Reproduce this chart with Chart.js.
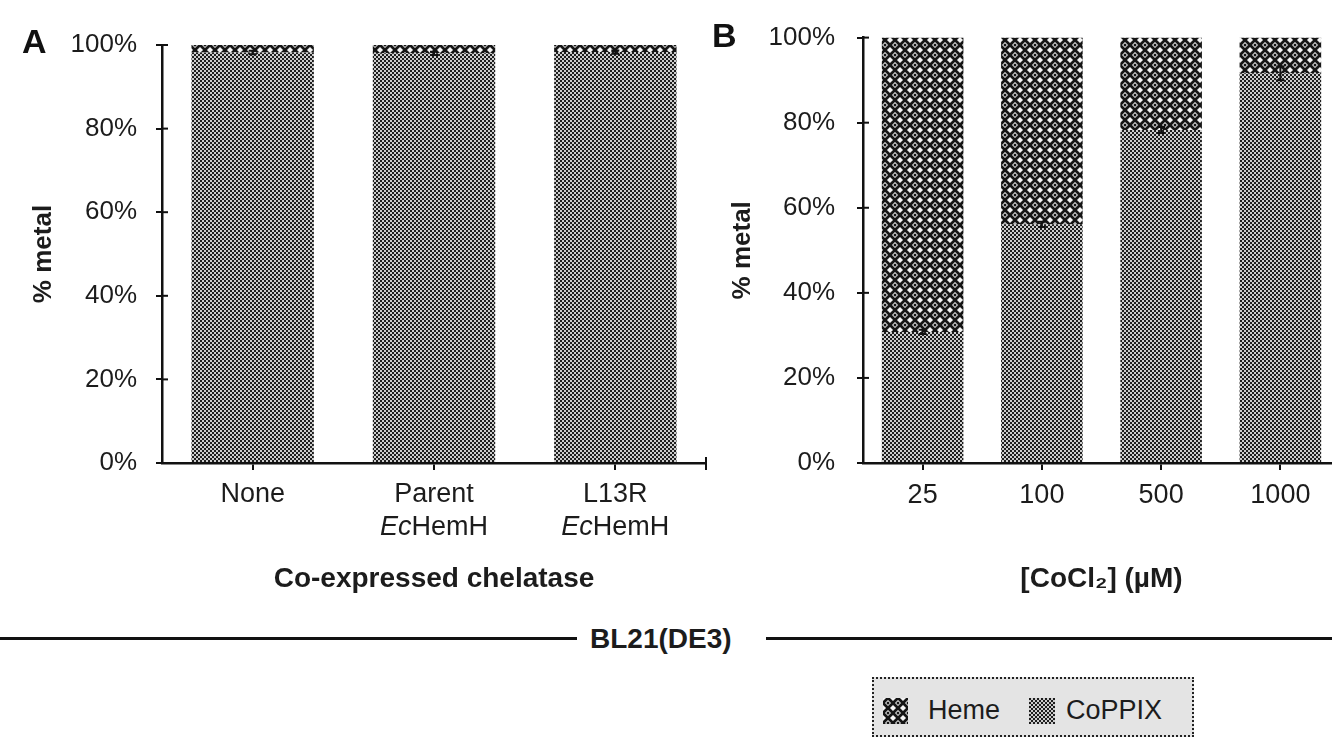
<!DOCTYPE html>
<html>
<head>
<meta charset="utf-8">
<script src="https://cdn.jsdelivr.net/npm/chart.js@4.4.1/dist/chart.umd.min.js"></script>
<style>
  body { margin: 0; width: 1332px; height: 738px; overflow: hidden; background: #fff; position: relative;
         font-family: "Liberation Sans", Arial, sans-serif; color: #1c1c1c; }
  .box { position: absolute; top: 0; height: 610px; }
  #boxA { left: 0; width: 720px; }
  #boxB { left: 700px; width: 650px; }
  .panel { position: absolute; font-weight: bold; font-size: 34px; line-height: 34px; color: #111; }
  .rule { position: absolute; top: 637px; height: 3px; background: #111; }
  #strain { position: absolute; left: 590px; top: 621px; font-size: 28px; font-weight: bold; line-height: 36px; }
  #legend { position: absolute; left: 872px; top: 677px; width: 318px; height: 56px; border: 2px dotted #222;
            background: #e4e4e4; font-size: 27px; }
  #legend canvas { position: absolute; top: 19px; }
  #legend span { position: absolute; top: 16px; line-height: 30px; }
</style>
</head>
<body>
<div class="box" id="boxA"><canvas id="chartA"></canvas></div>
<div class="box" id="boxB"><canvas id="chartB"></canvas></div>
<div class="panel" style="left:22px; top:24px;">A</div>
<div class="panel" style="left:712px; top:18px;">B</div>
<div class="rule" style="left:0; width:577px;"></div>
<div id="strain">BL21(DE3)</div>
<div class="rule" style="left:766px; width:566px;"></div>
<div id="legend">
  <canvas id="swHeme" width="25" height="26" style="left:9px"></canvas><span style="left:54px">Heme</span>
  <canvas id="swCo" width="26" height="26" style="left:155px"></canvas><span style="left:192px">CoPPIX</span>
</div>
<script>
// panel A
const catsA = ['None', ['Parent', 'EcHemH'], ['L13R', 'EcHemH']];
const coppixA = [98.2, 98.0, 98.3];
const hemeA = [1.8, 2.0, 1.7];
const errA = [0.4, 0.4, 0.4];

// panel B
const catsB = ['25', '100', '500', '1000'];
const coppixB = [30.8, 56.1, 78.3, 91.6];
const hemeB = [69.2, 43.9, 21.7, 8.4];
const errB = [0.5, 0.6, 0.7, 1.6];

const yTicks = [0, 20, 40, 60, 80, 100];

const ink = '#1c1c1c';
const font = '"Liberation Sans", Arial, sans-serif';

function checker() {
    const c = document.createElement('canvas');
    c.width = 4; c.height = 4;
    const g = c.getContext('2d');
    g.fillStyle = '#cdcdcd';
    g.fillRect(0, 0, 4, 4);
    g.fillStyle = '#1e1e1e';
    g.fillRect(0, 0, 2, 2);
    g.fillRect(2, 2, 2, 2);
    return c;
}

function diamonds() {
    const c = document.createElement('canvas');
    c.width = 10; c.height = 10;
    const g = c.getContext('2d');
    g.fillStyle = '#f4f4f4';
    g.fillRect(0, 0, 10, 10);
    g.strokeStyle = '#151515';
    g.lineWidth = 2.8;
    g.beginPath();
    g.moveTo(-1, 6); g.lineTo(6, -1);
    g.moveTo(4, 11); g.lineTo(11, 4);
    g.moveTo(4, -1); g.lineTo(11, 6);
    g.moveTo(-1, 4); g.lineTo(6, 11);
    g.stroke();
    g.fillStyle = '#151515';
    g.beginPath();
    g.arc(5, 5, 1.5, 0, Math.PI * 2);
    g.fill();
    return c;
}

const ctxA = document.getElementById('chartA').getContext('2d');
const coppixFill = ctxA.createPattern(checker(), 'repeat');
const hemeFill = ctxA.createPattern(diamonds(), 'repeat');

// legend swatches
[['swHeme', diamonds()], ['swCo', checker()]].forEach(function(s) {
    const g = document.getElementById(s[0]).getContext('2d');
    g.fillStyle = g.createPattern(s[1], 'repeat');
    g.fillRect(0, 0, 26, 26);
});

// error bars on top of the CoPPIX segment, plus the inner half of the axis ticks
const extras = {
    id: 'extras',
    afterDatasetsDraw(chart, args, opts) {
        const g = chart.ctx;
        const y = chart.scales.y;
        const ds = chart.data.datasets[0];
        const meta = chart.getDatasetMeta(0);
        g.save();
        g.strokeStyle = '#111';
        g.lineWidth = 2;
        meta.data.forEach(function(bar, i) {
            const v = ds.data[i], e = opts.errors[i];
            const t = y.getPixelForValue(v + e), b = y.getPixelForValue(v - e);
            g.beginPath();
            g.moveTo(bar.x, t); g.lineTo(bar.x, b);
            g.moveTo(bar.x - 4, t); g.lineTo(bar.x + 4, t);
            g.moveTo(bar.x - 4, b); g.lineTo(bar.x + 4, b);
            g.stroke();
        });
        g.restore();
    },
    afterDraw(chart, args, opts) {
        const g = chart.ctx;
        const a = chart.chartArea;
        const y = chart.scales.y;
        g.save();
        g.strokeStyle = '#111';
        g.lineWidth = 2;
        y.ticks.forEach(function(t) {
            const py = y.getPixelForValue(t.value);
            g.beginPath(); g.moveTo(a.left, py); g.lineTo(a.left + 6, py); g.stroke();
        });
        if (opts.endTick) {
            g.beginPath(); g.moveTo(a.right, a.bottom - 6); g.lineTo(a.right, a.bottom + 7); g.stroke();
        }
        if (opts.customLabels) {
            const x = chart.scales.x;
            g.fillStyle = ink;
            g.textBaseline = 'middle';
            g.textAlign = 'left';
            chart.data.labels.forEach(function(lbl, i) {
                const px = x.getPixelForTick(i);
                const lines = Array.isArray(lbl) ? lbl : [lbl];
                lines.forEach(function(line, j) {
                    const py = x.top + 32 + j * 32.4;
                    if (line.indexOf('Ec') === 0) {
                        g.font = 'italic 27px ' + font;
                        const w1 = g.measureText('Ec').width;
                        g.font = '27px ' + font;
                        const w2 = g.measureText(line.slice(2)).width;
                        const sx = px - (w1 + w2) / 2;
                        g.font = 'italic 27px ' + font;
                        g.fillText('Ec', sx, py);
                        g.font = '27px ' + font;
                        g.fillText(line.slice(2), sx + w1, py);
                    } else {
                        g.font = '27px ' + font;
                        g.textAlign = 'center';
                        g.fillText(line, px, py);
                        g.textAlign = 'left';
                    }
                });
            });
        }
        g.restore();
    }
};

function options(cfg) {
    return {
        responsive: true,
        maintainAspectRatio: false,
        animation: false,
        layout: { padding: { top: cfg.top, right: cfg.right, bottom: 0, left: 0 } },
        plugins: {
            legend: { display: false },
            tooltip: { enabled: false },
            extras: { errors: cfg.errors, endTick: cfg.endTick, customLabels: cfg.customLabels }
        },
        scales: {
            x: {
                stacked: true,
                grid: { drawOnChartArea: false, offset: false, tickLength: 7, color: '#111', lineWidth: 2 },
                border: { color: '#111', width: 2.5 },
                ticks: { color: cfg.customLabels ? 'rgba(0,0,0,0)' : ink, font: { family: font, size: 27 },
                         padding: 9, maxRotation: 0, autoSkip: false },
                title: { display: true, text: cfg.xTitle, color: ink,
                         font: { family: font, size: 28, weight: 'bold' }, padding: { top: 0, bottom: 14 } },
                afterFit: function(s) { s.height = 147; }
            },
            y: {
                stacked: true,
                min: 0,
                max: 100,
                afterBuildTicks: function(s) { s.ticks = yTicks.map(function(v) { return { value: v }; }); },
                ticks: { callback: function(v) { return v + '%'; }, color: ink,
                         font: { family: font, size: 26 }, padding: cfg.tickPad },
                grid: { drawOnChartArea: false, tickLength: 6, color: '#111', lineWidth: 2 },
                border: { color: '#111', width: 2.5 },
                title: { display: true, text: '% metal', color: ink,
                         font: { family: font, size: 26, weight: 'bold' }, padding: { top: cfg.titlePad } },
                afterFit: function(s) { s.width = cfg.yWidth; }
            }
        }
    };
}

new Chart(ctxA, {
    type: 'bar',
    data: {
        labels: catsA,
        datasets: [
            { label: 'CoPPIX', data: coppixA, backgroundColor: coppixFill, barPercentage: 0.9, categoryPercentage: 0.75 },
            { label: 'Heme', data: hemeA, backgroundColor: hemeFill, barPercentage: 0.9, categoryPercentage: 0.75 }
        ]
    },
    options: options({ top: 45, right: 14, yWidth: 162, tickPad: 19, titlePad: 28, errors: errA,
                       endTick: true, customLabels: true, xTitle: 'Co-expressed chelatase' }),
    plugins: [extras]
});

new Chart(document.getElementById('chartB'), {
    type: 'bar',
    data: {
        labels: catsB,
        datasets: [
            { label: 'CoPPIX', data: coppixB, backgroundColor: coppixFill, barPercentage: 0.9, categoryPercentage: 0.76 },
            { label: 'Heme', data: hemeB, backgroundColor: hemeFill, barPercentage: 0.9, categoryPercentage: 0.76 }
        ]
    },
    options: options({ top: 37, right: 10, yWidth: 163, tickPad: 22, titlePad: 27, errors: errB,
                       endTick: false, customLabels: false, xTitle: '[CoCl\u2082] (\u00b5M)' }),
    plugins: [extras]
});
</script>
</body>
</html>
